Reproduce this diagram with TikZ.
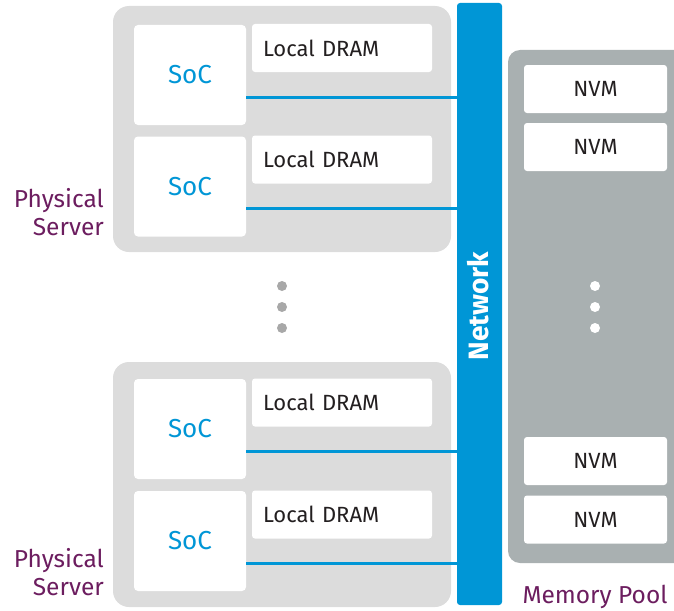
\documentclass[tikz,border=0pt]{standalone}
\usepackage{fontspec}
\setmainfont{Fira Sans}
\definecolor{srvgray}{HTML}{DCDCDC}
\definecolor{poolgray}{HTML}{A9B0B1}
\definecolor{netblue}{HTML}{0096D6}
\definecolor{labpurple}{HTML}{6C1D5F}
\definecolor{dotgray}{HTML}{A8A8A8}
\definecolor{txt}{HTML}{231F20}
\tikzset{
  server/.style={fill=srvgray, rounded corners=16pt},
  soc/.style={fill=white, rounded corners=4pt, inner sep=0pt, outer sep=0pt,
    minimum width=112pt, minimum height=100pt, text=netblue,
    font=\fontsize{26}{30}\selectfont},
  dram/.style={fill=white, rounded corners=3pt, inner xsep=11pt, inner ysep=0pt,
    outer sep=0pt, text width=158pt, align=left, minimum height=48pt, text=txt,
    font=\fontsize{22}{26}\selectfont},
  nvm/.style={fill=white, rounded corners=3pt, inner sep=0pt, outer sep=0pt,
    minimum width=143pt, minimum height=48pt, text=txt,
    font=\fontsize{22}{26}\selectfont},
  link/.style={draw=netblue, line width=3pt},
  caption/.style={text=labpurple, font=\fontsize{24.5}{28}\selectfont, inner sep=0pt}
}
\begin{document}
\begin{tikzpicture}[x=1pt, y=-1pt]
\useasboundingbox (0,0) rectangle (674,610);
\clip (0,0) rectangle (674,610);

% physical server enclosures
\fill[server] (113,6) rectangle (451,252);
\fill[server] (113,362) rectangle (451,607);

% memory pool enclosure (runs off the right edge)
\fill[poolgray, rounded corners=12pt] (508,50) rectangle (700,563);

% network backbone
\node[fill=netblue, rounded corners=3pt, inner sep=0pt, outer sep=0pt,
  minimum width=45pt, minimum height=602pt] (net) at (479.5,304) {};
\node[rotate=90, text=white, font=\bfseries\fontsize{28}{32}\selectfont] (netlab) at (478,306) {Network};

% SoCs and their local memory
\node[soc] (soc1) at (190,75) {SoC};
\node[dram] (dram1) at (342,48) {Local DRAM};
\node[soc] (soc2) at (190,186.5) {SoC};
\node[dram] (dram2) at (342,159.5) {Local DRAM};
\node[soc] (soc3) at (190,429) {SoC};
\node[dram] (dram3) at (342,402.5) {Local DRAM};
\node[soc] (soc4) at (190,541) {SoC};
\node[dram] (dram4) at (342,514.5) {Local DRAM};

% links from each SoC to the network
\foreach \s in {soc1,soc2,soc3,soc4}
  \draw[link] ([yshift=-22pt]\s.east) -- ([yshift=-22pt]\s.east -| net.west);

% NVM modules
\node[nvm] (nvm1) at (595.5,89) {NVM};
\node[nvm] (nvm2) at (595.5,147) {NVM};
\node[nvm] (nvm3) at (595.5,461) {NVM};
\node[nvm] (nvm4) at (595.5,519.5) {NVM};

% ellipses: grey between the servers, white inside the pool
\foreach \y in {286,307,328} {
  \fill[dotgray] (282,\y) circle (5pt);
  \fill[white] (595,\y) circle (5pt);
}

% captions
\node[caption, anchor=east, align=right] (cap1) at (104,212) {Physical\\Server};
\node[caption, anchor=east, align=right] (cap2) at (104,572) {Physical\\Server};
\node[caption] (cap3) at (595,597) {Memory Pool};
\end{tikzpicture}
\end{document}
